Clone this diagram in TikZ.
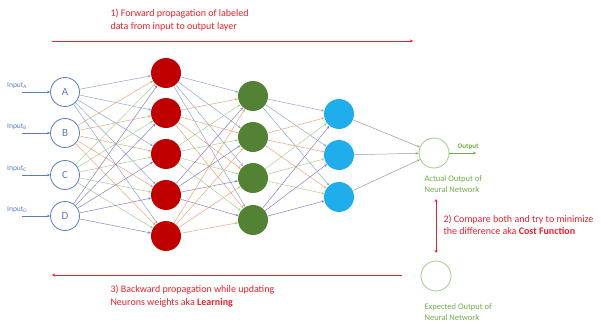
\documentclass[tikz,border=0pt]{standalone}
\usepackage{fontspec}
\setmainfont{Carlito}
\usetikzlibrary{arrows.meta}

\definecolor{inblue}{HTML}{5B7DBF}
\definecolor{redn}{HTML}{C00000}
\definecolor{greenn}{HTML}{548235}
\definecolor{bluen}{HTML}{1FAEEB}
\definecolor{outgreen}{HTML}{70AD47}
\definecolor{txtred}{HTML}{E8202A}
\definecolor{eb}{HTML}{8FA5D6}
\definecolor{eo}{HTML}{E9A77B}
\definecolor{eg}{HTML}{A8D08D}
\definecolor{ep}{HTML}{8E7CC3}

\begin{document}
\begin{tikzpicture}[x=1pt, y=-1pt,
    neuron/.style={circle, minimum size=30pt, inner sep=0pt},
    innode/.style={neuron, minimum size=29pt, draw=inblue, line width=0.8pt, fill=white, text=inblue, font=\fontsize{11}{11}\selectfont},
    wire/.style={line width=0.5pt, -{Stealth[length=3pt, width=2.5pt]}},
    note/.style={anchor=west, align=left, text=txtred, font=\fontsize{10}{12.5}\selectfont},
    gnote/.style={anchor=west, align=left, text=outgreen, font=\fontsize{8.5}{11}\selectfont}]
  \useasboundingbox (0,0) rectangle (601,323);

  % input layer
  \foreach \n/\y in {A/92,B/133,C/175,D/216} {
    \node[innode] (in\n) at (65,\y) {\n};
    \coordinate (s\n) at (22,\y);
    \node[anchor=south west, inner sep=1pt, text=inblue, font=\fontsize{7.5}{7.5}\selectfont] (lab\n) at (6,\y-2) {Input\textsubscript{\n}};
    \draw[inblue, line width=0.6pt, -{Stealth[length=3pt, width=2.5pt]}] (s\n) -- (in\n);
  }

  % hidden layers
  \foreach \i/\y in {1/73,2/113,3/154,4/195,5/236}
    \node[neuron, fill=redn] (h\i) at (166,\y) {};
  \foreach \j/\y in {1/96,2/137,3/178,4/220}
    \node[neuron, fill=greenn] (g\j) at (253,\y) {};
  \foreach \k/\y in {1/114,2/155,3/197}
    \node[neuron, fill=bluen] (b\k) at (339,\y) {};

  % output neurons
  \node[neuron, draw=eg, line width=0.9pt] (out) at (434,153) {};
  \node[neuron, draw=eg, line width=0.9pt] (exp) at (436,276) {};

  % connections
  \foreach \n/\c in {A/eb,B/eo,C/eg,D/ep}
    \foreach \i in {1,...,5}
      \draw[wire, \c] (in\n) -- (h\i);
  \foreach \i/\c in {1/eb,2/eo,3/eg,4/ep,5/eo}
    \foreach \j in {1,...,4}
      \draw[wire, \c] (h\i) -- (g\j);
  \foreach \j/\c in {1/eb,2/eo,3/eg,4/ep}
    \foreach \k in {1,...,3}
      \draw[wire, \c] (g\j) -- (b\k);
  \foreach \k in {1,...,3}
    \draw[wire, gray!80] (b\k) -- (out);

  % output arrow
  \coordinate (oend) at (476,153);
  \draw[outgreen, line width=1pt, -{Stealth[length=3pt, width=3pt]}] (out) -- (oend);
  \node[anchor=south, inner sep=1pt, text=outgreen, font=\bfseries\fontsize{7}{7}\selectfont] (otxt) at (468,151) {Output};
  \node[gnote] (actual) at (421,184) {Actual Output of\\Neural Network};
  \node[gnote] (expected) at (421,312) {Expected Output of\\Neural Network};

  % forward pass
  \coordinate (f1) at (52,41);
  \coordinate (f2) at (413,41);
  \draw[txtred, line width=0.8pt, -{Stealth[length=3pt, width=3pt]}] (f1) -- (f2);
  \node[note] (fwd) at (107,20) {1) Forward propagation of labeled\\data from input to output layer};

  % cost
  \coordinate (c1) at (436,199);
  \coordinate (c2) at (436,253);
  \draw[txtred, line width=0.8pt, {Stealth[length=3pt, width=3pt]}-{Stealth[length=3pt, width=3pt]}] (c1) -- (c2);
  \node[note] (cost) at (440,225) {2) Compare both and try to minimize\\the difference aka \textbf{Cost Function}};

  % backward pass
  \coordinate (b1) at (402,275);
  \coordinate (b2) at (52,275);
  \draw[txtred, line width=0.8pt, -{Stealth[length=3pt, width=3pt]}] (b1) -- (b2);
  \node[note] (bwd) at (107,296) {3) Backward propagation while updating\\Neurons weights aka \textbf{Learning}};
\end{tikzpicture}
\end{document}
